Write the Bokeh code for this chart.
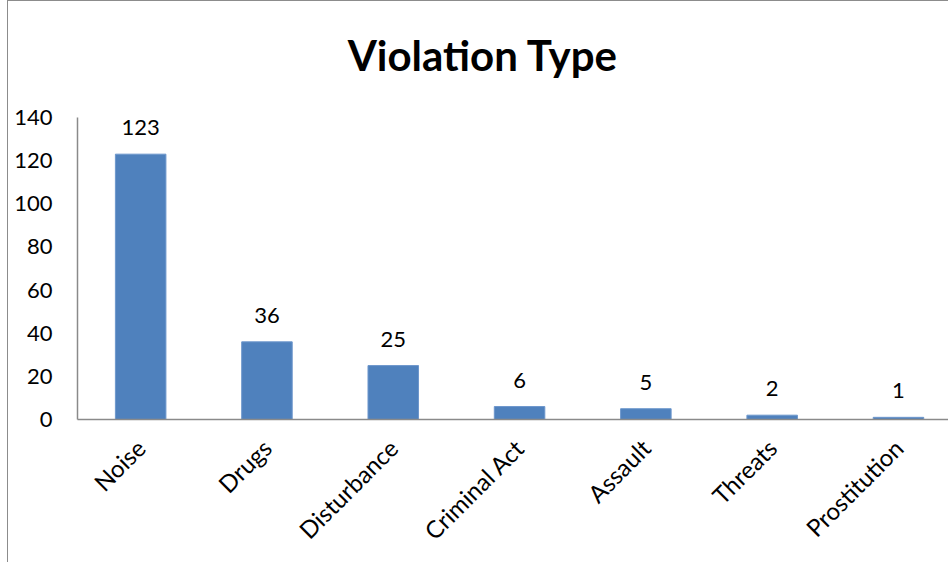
import math
from bokeh.plotting import figure
from bokeh.models import ColumnDataSource, LabelSet, Label, FixedTicker, Range1d
from bokeh.core.properties import value
from bokeh.embed import file_html
from bokeh.resources import INLINE

categories = ["Noise", "Drugs", "Disturbance", "Criminal Act", "Assault", "Threats", "Prostitution"]
counts = [123, 36, 25, 6, 5, 2, 1]
y_ticks = [0, 20, 40, 60, 80, 100, 120, 140]
title_text = "Violation Type"

FONT = "Lato"
positions = list(range(len(categories)))
src = ColumnDataSource(dict(x=positions, top=counts, label=[str(c) for c in counts]))

# frame spans the full height above the x axis; axis line limited to 0..140
frame_h = 562 - 144
y_max = y_ticks[-1]
y_end = y_max * frame_h / 302.0

p = figure(width=941, height=562, output_backend="svg", toolbar_location=None,
           x_range=Range1d(-0.5, 6.404), y_range=Range1d(0, y_end),
           min_border_left=69, min_border_right=0, min_border_top=0, min_border_bottom=144,
           styles={"border-left": "1px solid #8c8c8c", "border-top": "1px solid #8c8c8c",
                   "margin-left": "7px"})
p.outline_line_color = None
p.xgrid.grid_line_color = None
p.ygrid.grid_line_color = None

p.vbar(x="x", top="top", bottom=0, width=0.4, source=src,
       fill_color="#4F81BD", line_color="#6d97cc", line_width=1)

labels = LabelSet(x="x", y="top", text="label", source=src, y_offset=19,
                  text_align="center", text_baseline="alphabetic",
                  text_font=value(FONT), text_font_size=value("22px"), text_color="black")
p.add_layout(labels)

title = Label(x=2.71, y=y_max + 28.8, text=title_text, text_align="center",
              text_baseline="alphabetic", text_font=FONT, text_font_size="42px",
              text_font_style="bold", text_color="black")
p.add_layout(title)

# y axis
ya = p.yaxis[0]
ya.ticker = FixedTicker(ticks=y_ticks)
ya.bounds = (0, y_max)
ya.axis_line_color = "#8a8a8a"
ya.axis_line_width = 1.5
ya.major_tick_line_color = None
ya.minor_tick_line_color = None
ya.major_label_standoff = 19
ya.major_label_text_font = FONT
ya.major_label_text_font_size = "22px"
ya.major_label_text_color = "black"

# x axis
xa = p.xaxis[0]
xa.ticker = FixedTicker(ticks=positions)
xa.major_label_overrides = {i: c for i, c in zip(positions, categories)}
xa.major_label_orientation = math.pi / 4
xa.axis_line_color = "#8a8a8a"
xa.axis_line_width = 1.5
xa.major_tick_line_color = None
xa.minor_tick_line_color = None
xa.major_label_standoff = 18
xa.major_label_text_font = FONT
xa.major_label_text_font_size = "24px"
xa.major_label_text_color = "black"

open("out.html", "w").write(file_html(p, INLINE))
